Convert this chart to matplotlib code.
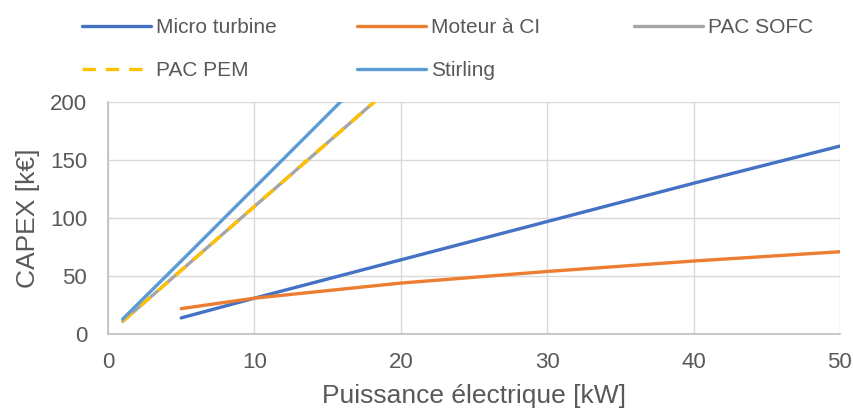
import numpy as np
import matplotlib.pyplot as plt

plt.rcParams['font.family'] = ['Liberation Sans', 'DejaVu Sans']

# Données
x_mt = [5, 10, 20, 30, 40, 50]
capex_mt = [14, 31, 64, 97, 130, 162]

x_ci = [5, 10, 20, 30, 40, 50]
capex_ci = [22, 31, 44, 54, 63, 71]

x_pac = [1, 5, 10, 15, 20]
capex_sofc = [11, 55, 110, 165, 220]
capex_pem = [11, 55, 110, 165, 220]

x_stirling = [1, 5, 10, 15, 20]
capex_stirling = [13, 63, 126, 189, 252]

gris = '#595959'

fig = plt.figure(figsize=(8.54, 4.09), dpi=100)
ax = fig.add_axes([0.1265, 0.183, 0.857, 0.5676])

l_mt, = ax.plot(x_mt, capex_mt, color='#4472C4', lw=2.4, label='Micro turbine', solid_capstyle='round')
l_ci, = ax.plot(x_ci, capex_ci, color='#ED7D31', lw=2.4, label='Moteur à CI', solid_capstyle='round')
l_sofc, = ax.plot(x_pac, capex_sofc, color='#A5A5A5', lw=2.4, label='PAC SOFC', solid_capstyle='round')
l_pem, = ax.plot(x_pac, capex_pem, color='#FFC000', lw=2.4, ls=(0, (4, 3)), label='PAC PEM')
l_st, = ax.plot(x_stirling, capex_stirling, color='#5B9BD5', lw=2.4, label='Stirling', solid_capstyle='round')

ax.set_xlim(0, 50)
ax.set_ylim(0, 200)
ax.set_xticks(range(0, 51, 10))
ax.set_yticks(range(0, 201, 50))
ax.grid(color='#D9D9D9', lw=1)
ax.set_axisbelow(True)
for s in ['top', 'right']:
    ax.spines[s].set_visible(False)
for s in ['left', 'bottom']:
    ax.spines[s].set_color('#BFBFBF')
    ax.spines[s].set_linewidth(1.2)
ax.tick_params(length=0, labelsize=16, colors=gris)
ax.tick_params(axis='y', pad=15)
ax.tick_params(axis='x', pad=13)

ax.set_xlabel('Puissance électrique [kW]', fontsize=19, color=gris, labelpad=8)
ax.set_ylabel('CAPEX [k€]', fontsize=19, color=gris, labelpad=7)

# légende en trois colonnes de largeur égale
colonnes = [([l_mt, l_pem], 82), ([l_ci, l_st], 357), ([l_sofc], 634)]
for hs, xpx in colonnes:
    fig.legend(handles=hs, labels=[h.get_label() for h in hs],
               loc='upper left', bbox_to_anchor=(xpx / 854, 1 - 18 / 409),
               frameon=False, fontsize=15, labelcolor=gris, handlelength=3.3,
               handletextpad=0.25, labelspacing=1.15, borderpad=0, borderaxespad=0)

fig.savefig('out.png', dpi=100)
